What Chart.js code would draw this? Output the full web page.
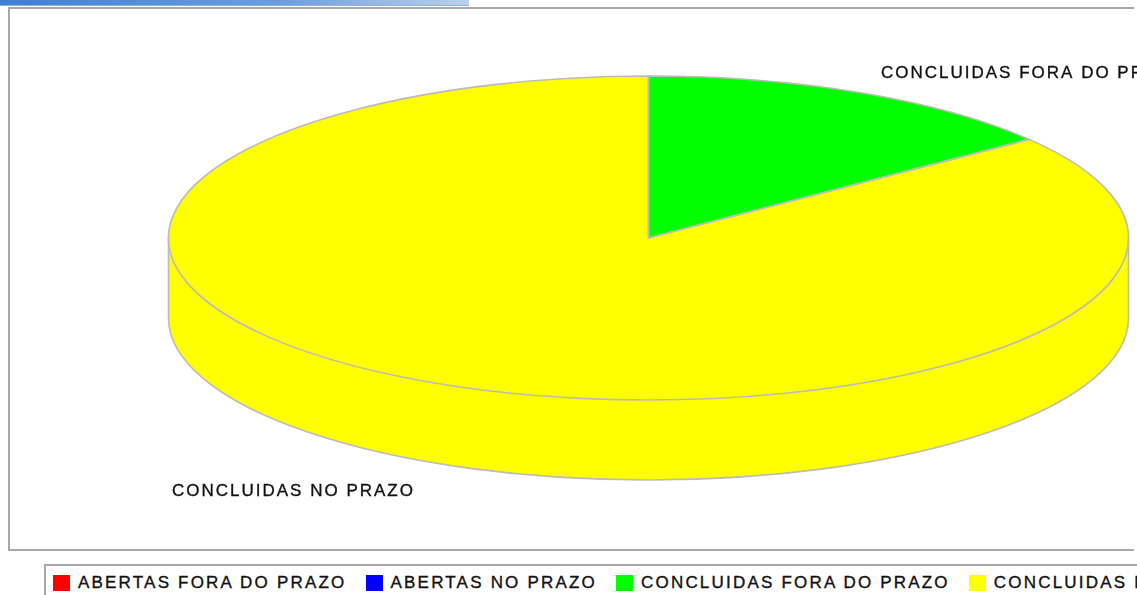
<!DOCTYPE html>
<html>
<head>
<meta charset="utf-8">
<script src="https://cdn.jsdelivr.net/npm/chart.js@4.4.1/dist/chart.umd.min.js"></script>
<style>
    html, body { margin: 0; padding: 0; background: #fff; width: 1137px; height: 595px; overflow: hidden; }
    #tab { position: absolute; left: 0; top: 0; width: 469px; height: 5px;
           background: linear-gradient(to right, #3f7fd2, #6b9ee0 60%, #bcd0ea); border-bottom: 1px solid #8fb0dc; }
    #frame { position: absolute; left: 8px; top: 7px; width: 1124px; height: 540px;
             border: 2px solid #a8a8a8; border-right: none; }
    #wrap { position: absolute; left: 0; top: 0; width: 1137px; height: 595px; }
    #legend { position: absolute; left: 44px; top: 564px; width: 1100px; height: 40px;
              border: 2px solid #a8a8a8; border-right: none; display: flex; align-items: flex-start;
              padding: 7px 0 0 7px; box-sizing: border-box; }
    .item { display: flex; align-items: center; margin-right: 19px; white-space: nowrap;
            font: 17px "Liberation Sans", Arial, sans-serif; letter-spacing: 2.2px; color: #111;
            -webkit-text-stroke: 0.35px #111; }
    .box { width: 17px; height: 16px; margin-right: 8px; }
</style>
</head>
<body>
<div id="tab"></div>
<div id="frame"></div>
<div id="legend"></div>
<div id="wrap"><canvas id="pieChart"></canvas></div>
<script>
const labels = ["ABERTAS FORA DO PRAZO", "ABERTAS NO PRAZO", "CONCLUIDAS FORA DO PRAZO", "CONCLUIDAS NO PRAZO"];
const values = [0, 0, 7, 41];
const colors = ["#ff0000", "#0000ff", "#00ff00", "#ffff00"];

// where the 3D pie sits on the page
const pie3d = { cx: 648.5, cy: 238, rx: 480, ry: 162, depth: 80, outline: "#bcbcb4" };
const labelX = { left: 172, right: 881 };

// legend
const legendEl = document.getElementById("legend");
labels.forEach((name, i) => {
    const item = document.createElement("div");
    item.className = "item";
    const box = document.createElement("span");
    box.className = "box";
    box.style.background = colors[i];
    item.appendChild(box);
    item.appendChild(document.createTextNode(name));
    legendEl.appendChild(item);
});

function visibleArcs(chart) {
    return chart.getDatasetMeta(0).data.filter(a => a.endAngle - a.startAngle > 1e-6);
}

const pie3dPlugin = {
    id: "pie3d",
    beforeDatasetsDraw(chart) {
        const ctx = chart.ctx;
        const E = pie3d;
        const arcs = chart.getDatasetMeta(0).data;
        // side walls (front half only)
        arcs.forEach((a, i) => {
            if (a.endAngle - a.startAngle <= 1e-6) return;
            [-2 * Math.PI, 0, 2 * Math.PI].forEach(k => {
                const lo = Math.max(a.startAngle, k), hi = Math.min(a.endAngle, Math.PI + k);
                if (hi <= lo) return;
                ctx.beginPath();
                ctx.ellipse(E.cx, E.cy, E.rx, E.ry, 0, lo, hi);
                ctx.ellipse(E.cx, E.cy + E.depth, E.rx, E.ry, 0, hi, lo, true);
                ctx.closePath();
                ctx.fillStyle = colors[i];
                ctx.fill();
            });
        });
        // squash the library's circle into the top ellipse
        const a0 = arcs[0];
        ctx.save();
        ctx.translate(E.cx, E.cy);
        ctx.scale(E.rx / a0.outerRadius, E.ry / a0.outerRadius);
        ctx.translate(-a0.x, -a0.y);
    },
    afterDatasetsDraw(chart) {
        const ctx = chart.ctx;
        const E = pie3d;
        ctx.restore();
        ctx.save();
        ctx.strokeStyle = E.outline;
        ctx.lineWidth = 1.6;
        // side outline
        ctx.beginPath();
        ctx.moveTo(E.cx + E.rx, E.cy);
        ctx.lineTo(E.cx + E.rx, E.cy + E.depth);
        ctx.ellipse(E.cx, E.cy + E.depth, E.rx, E.ry, 0, 0, Math.PI);
        ctx.lineTo(E.cx - E.rx, E.cy);
        ctx.stroke();
        // top face outlines
        visibleArcs(chart).forEach(a => {
            ctx.beginPath();
            ctx.moveTo(E.cx, E.cy);
            ctx.ellipse(E.cx, E.cy, E.rx, E.ry, 0, a.startAngle, a.endAngle);
            ctx.closePath();
            ctx.stroke();
        });
        // labels
        ctx.font = "17px 'Liberation Sans', Arial, sans-serif";
        ctx.letterSpacing = "2px";
        ctx.fillStyle = "#111";
        ctx.strokeStyle = "#111";
        ctx.lineWidth = 0.35;
        ctx.textAlign = "left";
        ctx.textBaseline = "middle";
        chart.getDatasetMeta(0).data.forEach((a, i) => {
            if (a.endAngle - a.startAngle <= 1e-6) return;
            const mid = (a.startAngle + a.endAngle) / 2;
            const s = Math.sin(mid);
            const x = Math.cos(mid) >= 0 ? labelX.right : labelX.left;
            const y = E.cy + s * (E.ry + 22) + (s > 0 ? E.depth + 8 : 0);
            ctx.fillText(labels[i], x, y);
            ctx.strokeText(labels[i], x, y);
        });
        ctx.restore();
    }
};

new Chart(document.getElementById("pieChart"), {
    type: "pie",
    data: {
        labels: labels,
        datasets: [{
            data: values,
            backgroundColor: colors,
            borderWidth: 0
        }]
    },
    options: {
        responsive: true,
        maintainAspectRatio: false,
        animation: false,
        plugins: { legend: { display: false }, tooltip: { enabled: false } }
    },
    plugins: [pie3dPlugin]
});
</script>
</body>
</html>
